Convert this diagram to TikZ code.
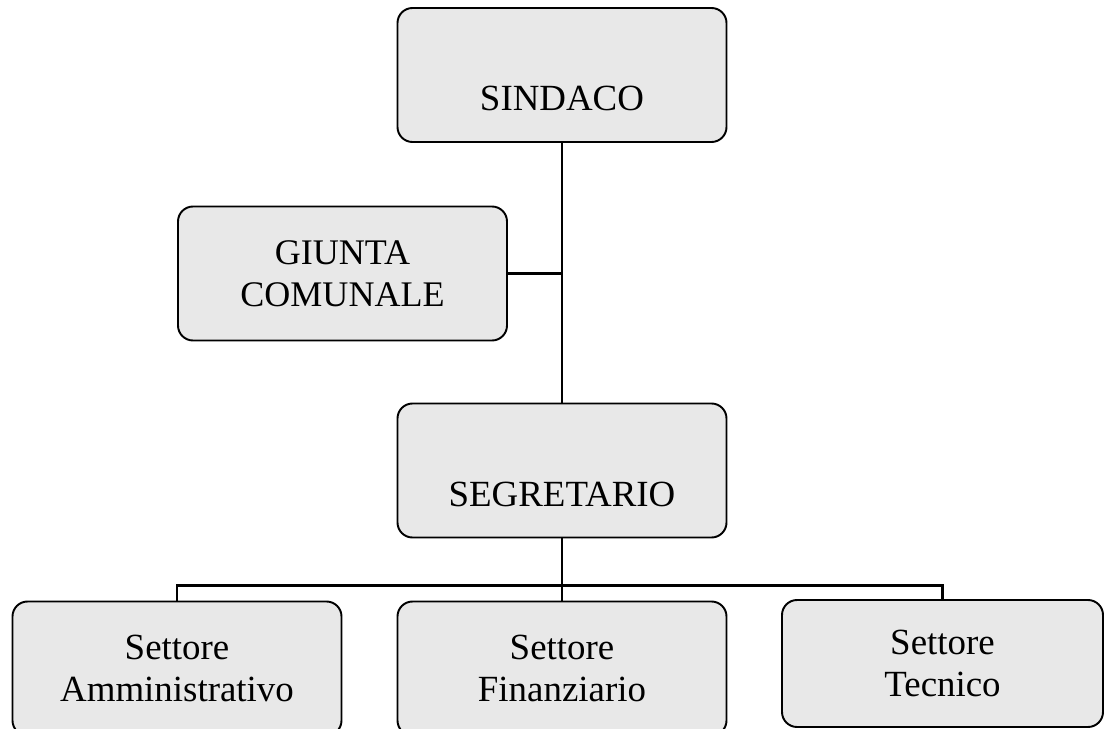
\documentclass[tikz,border=0pt]{standalone}
\usepackage{fontspec}
\setmainfont{Liberation Serif}
\usetikzlibrary{positioning}

\tikzset{
  box/.style={draw=black,line width=1.1pt,rounded corners=0.3cm,fill=black!9,
    minimum width=6.58cm,minimum height=2.68cm,align=center,inner sep=0pt,
    font=\fontsize{21}{24}\selectfont},
  conn/.style={line width=1.7pt}
}

\begin{document}
\begin{tikzpicture}[node distance=3.96cm,on grid]
		\useasboundingbox (0,0) rectangle (22.1,-14.58);
		\clip (0,0) rectangle (22.1,-14.58);
		\node[box] (sind) at (11.24,-1.5) {\strut\\SINDACO};
		\node[box] (giunta) [below left=3.97cm and 4.39cm of sind,font=\fontsize{20.5}{24}\selectfont] {GIUNTA\\COMUNALE};
		\node[box] (segr) [below=7.91cm of sind] {\strut\\SEGRETARIO};
		\node[box] (fin) [below=of segr] {Settore\\Finanziario};
		\node[box] (amm) [left=7.7cm of fin] {Settore\\Amministrativo};
		\node[box] (tec) [right=7.61cm of fin,minimum width=6.42cm,minimum height=2.54cm,yshift=0.1cm] {Settore\\Tecnico};
		\draw[conn] (sind) -- (segr);
		\draw[conn] (giunta) -- (giunta -| sind);
		\draw[conn] (segr) -- (fin);
		\draw[conn] (amm.north) -- ++(0,0.3) coordinate (bus) -| (tec.north);
\end{tikzpicture}
\end{document}
